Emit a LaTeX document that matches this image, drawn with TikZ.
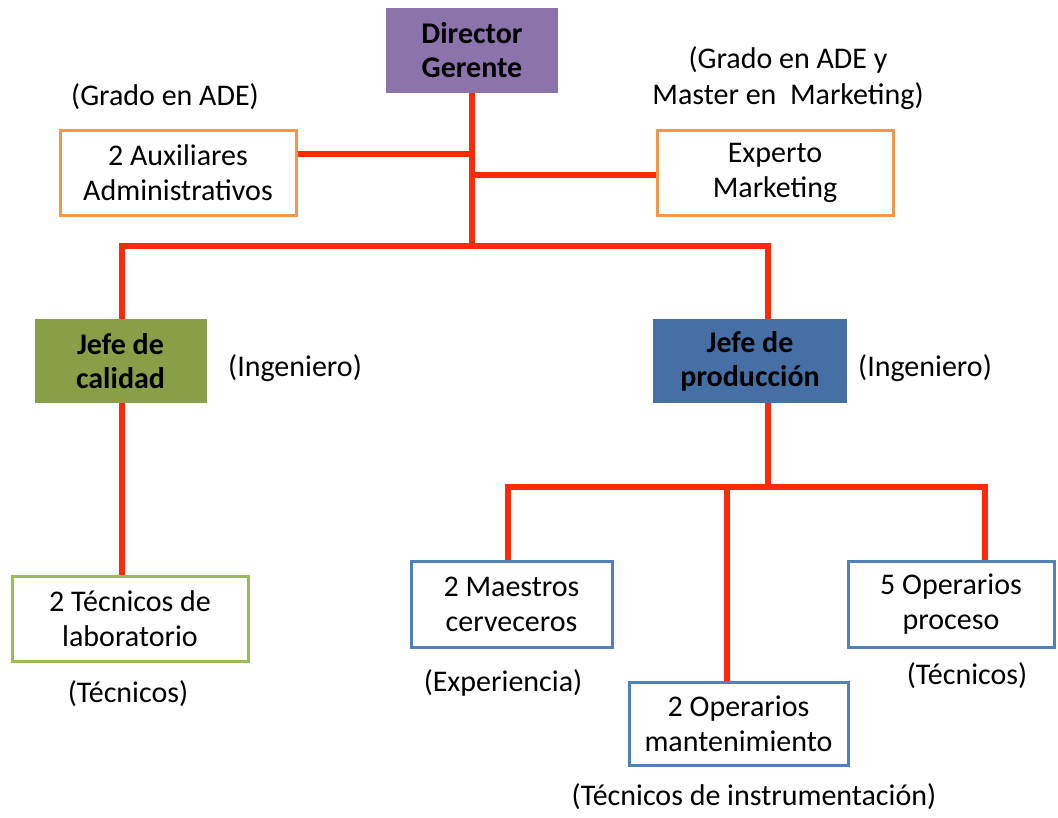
\documentclass[tikz,border=0pt]{standalone}
\usepackage{fontspec}
\setmainfont{Carlito}
\definecolor{dirpurple}{HTML}{8C73AC}
\definecolor{calgreen}{HTML}{8A9E48}
\definecolor{prodblue}{HTML}{4670A5}
\definecolor{borange}{HTML}{F79646}
\definecolor{bgreen}{HTML}{9BBB59}
\definecolor{bblue}{HTML}{4F81BD}
\definecolor{linered}{HTML}{FF2A08}
\tikzset{
  box/.style={rectangle, inner sep=0pt, align=center, font=\fontsize{30}{35}\selectfont, text=black},
  filled/.style={box, font=\fontsize{30}{34}\selectfont\bfseries, draw=none},
  obox/.style={box, draw=borange, line width=3pt, fill=white},
  gbox/.style={box, draw=bgreen, line width=3pt, fill=white},
  bbox/.style={box, draw=bblue, line width=3pt, fill=white},
  note/.style={inner sep=0pt, align=center, font=\fontsize{30}{36}\selectfont, text=black},
  conn/.style={draw=linered, line width=6pt, line join=miter, line cap=butt},
}
\begin{document}
\begin{tikzpicture}[x=1pt,y=-1pt]
\useasboundingbox[fill=white] (0,0) rectangle (1058,817);
\coordinate (bus1) at (473,246);
\coordinate (bus2) at (768,487);
% boxes
\node[filled, fill=dirpurple, minimum width=172, minimum height=85] (dir) at (472,50.5) {Director\\Gerente};
\node[obox, minimum width=236, minimum height=85] (aux) at (178,172.5) {2 Auxiliares\\Administrativos};
\node[obox, minimum width=236, minimum height=85] (exp) at (775,172.5) {Experto\\Marketing};
\node[filled, fill=calgreen, minimum width=172, minimum height=84] (cal) at (120.5,361) {Jefe de\\calidad};
\node[filled, fill=prodblue, minimum width=194, minimum height=84] (prod) at (750,361) {Jefe de\\producción};
\node[gbox, minimum width=236, minimum height=85] (lab) at (130,618.5) {2 Técnicos de\\laboratorio};
\node[bbox, minimum width=201, minimum height=86] (mae) at (511.5,604) {2 Maestros\\cerveceros};
\node[bbox, minimum width=219, minimum height=83] (mant) at (738.5,723.5) {2 Operarios\\mantenimiento};
\node[bbox, minimum width=206, minimum height=86] (proc) at (951,604) {5 Operarios\\proceso};
% notes
\node[note] (n1) at (165,97) {(Grado en ADE)};
\node[note] (n2) at (788,78) {(Grado en ADE y\\Master en\ \ Marketing)};
\node[note] (n3) at (295,368) {(Ingeniero)};
\node[note] (n4) at (925,368) {(Ingeniero)};
\node[note] (n5) at (128,694) {(Técnicos)};
\node[note] (n6) at (503,683) {(Experiencia)};
\node[note] (n7) at (967,676) {(Técnicos)};
\node[note] (n8) at (754,797) {(Técnicos de instrumentación)};
% connectors
\draw[conn] (dir.south) -- (dir.south |- bus1);
\draw[conn] ([yshift=18.5pt]aux.east) -- ([yshift=18.5pt]aux.east -| dir.south);
\draw[conn] ([yshift=-2.5pt]exp.west) -- ([yshift=-2.5pt]exp.west -| bus1);
\draw[conn] ([xshift=1.5pt]cal.north) |- (bus1) -| ([xshift=18pt]prod.north);
\draw[conn] ([xshift=1.5pt]cal.south) -- ([xshift=1.5pt]lab.north -| cal.south);
\draw[conn] ([xshift=18pt]prod.south) -- (bus2);
\draw[conn] ([xshift=-3.5pt]mae.north) |- (bus2) -| ([xshift=34pt]proc.north);
\draw[conn] ([xshift=-11.5pt]mant.north) -- ([xshift=-11.5pt]mant.north |- bus2);
\end{tikzpicture}
\end{document}
